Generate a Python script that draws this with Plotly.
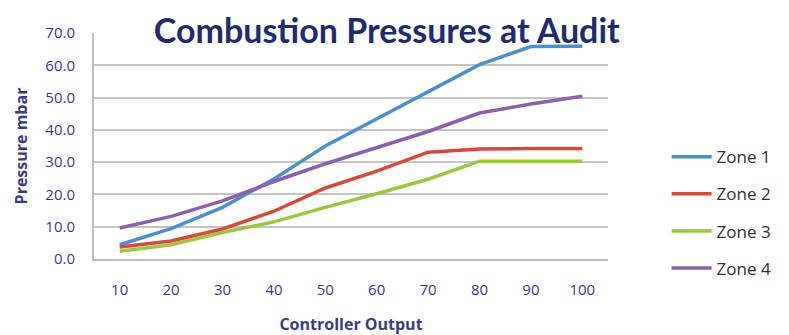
import plotly.graph_objects as go

categories = ["10", "20", "30", "40", "50", "60", "70", "80", "90", "100"]
zone1 = [4.4, 9.4, 16.0, 24.8, 35.0, 43.3, 51.6, 60.2, 65.8, 65.9]
zone2 = [3.7, 5.6, 9.3, 14.8, 22.0, 27.2, 33.1, 34.1, 34.2, 34.2]
zone3 = [2.4, 4.4, 8.2, 11.5, 16.0, 20.2, 24.7, 30.3, 30.3, 30.3]
zone4 = [9.6, 13.2, 18.0, 24.0, 29.5, 34.6, 39.5, 45.2, 48.0, 50.4]
series_names = ["Zone 1", "Zone 2", "Zone 3", "Zone 4"]
colors = ["#4A90D0", "#D9493A", "#9BC63F", "#8B61AE"]
y_ticks = [0, 10, 20, 30, 40, 50, 60, 70]

fig = go.Figure()
for i, (name, vals) in enumerate(zip(series_names, [zone1, zone2, zone3, zone4])):
    fig.add_trace(go.Scatter(
        x=categories, y=vals, mode="lines", name=name,
        line=dict(color=colors[i], width=3.5),
        legendgroup=name,
    ))

navy = "#3A3A85"
fig.update_layout(
    width=789, height=335,
    margin=dict(l=84, r=189, t=25, b=83),
    plot_bgcolor="white", paper_bgcolor="white",
    font=dict(family="Open Sans", color=navy),
    title=dict(text="<b>Combustion Pressures at Audit</b>", x=0.48, xanchor="center",
               y=0.93, yanchor="middle",
               font=dict(size=34, color="#1F2B6E", family="Lato")),
    showlegend=True,
    legend=dict(x=1.114, xanchor="left", y=0.205, yanchor="middle",
                font=dict(size=17, color="#333333"),
                tracegroupgap=12, itemwidth=40),
    xaxis=dict(type="category", range=[-0.5, 9.5], showline=True, linecolor="#BFBFBF", linewidth=2,
               showgrid=False, ticks="", ticklabelstandoff=16,
               tickfont=dict(size=15, color=navy),
               title=dict(text="<b>Controller Output</b>", font=dict(size=16, color=navy), standoff=21)),
    yaxis=dict(range=[0, 70], tickvals=y_ticks, tickformat=".1f",
               showline=True, linecolor="#BFBFBF", linewidth=2,
               showgrid=True, gridcolor="#C4C4C4", gridwidth=2, zeroline=False,
               ticks="", ticklabelstandoff=14,
               tickfont=dict(size=15, color=navy),
               title=dict(text="<b>Pressure mbar</b>", font=dict(size=16, color=navy), standoff=14)),
)
fig.write_html("out.html")
